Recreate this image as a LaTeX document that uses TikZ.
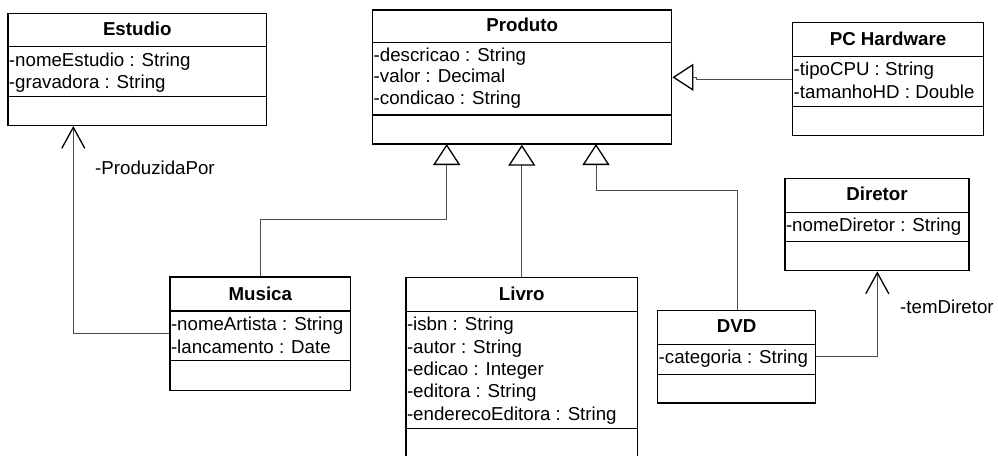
\documentclass[tikz,border=0pt]{standalone}
\usepackage{fontspec}
\setmainfont{Liberation Sans}
\usetikzlibrary{arrows.meta,fit}
\begin{document}
\begin{tikzpicture}[x=1pt,y=-1pt,
  box/.style={draw=black,line width=1.4pt,inner sep=0pt},
  divider/.style={draw=black,line width=1.4pt},
  ttl/.style={font=\fontsize{18.7}{22}\selectfont\bfseries,inner sep=0pt,anchor=base},
  attr/.style={font=\fontsize{18.7}{22}\selectfont,inner sep=0pt,anchor=base west},
  lbl/.style={font=\fontsize{18.7}{22}\selectfont,inner sep=0pt,anchor=base west},
  gen/.style={draw=black!70,line width=1pt,-{Triangle[open,length=21pt,width=27pt,color=black,line width=1.3pt]}},
  assoc/.style={draw=black!70,line width=1pt,-{Straight Barb[length=21pt,width=23pt,color=black,line width=1.3pt]}}]
\useasboundingbox (0,0) rectangle (998,455);
\fill[white] (0,0) rectangle (998,455);

% Estudio
\node[box,fit={(8,13.3) (266.7,125.3)}] (estudio) {};
\draw[divider] (estudio.west |- 0,46.7) -- (estudio.east |- 0,46.7);
\draw[divider] (estudio.west |- 0,96.7) -- (estudio.east |- 0,96.7);
\node[ttl] (estudioT) at (137.3,35) {Estudio};
\node[attr] (estudioA1) at (8.8,66.7) {-nomeEstudio : String};
\node[attr] (estudioA2) at (8.8,88.3) {-gravadora : String};

% Produto
\node[box,fit={(372.7,10) (671.7,144)}] (produto) {};
\draw[divider] (produto.west |- 0,42.7) -- (produto.east |- 0,42.7);
\draw[divider] (produto.west |- 0,115) -- (produto.east |- 0,115);
\node[ttl] (produtoT) at (522.2,31.7) {Produto};
\node[attr] (produtoA1) at (373.5,61.7) {-descricao : String};
\node[attr] (produtoA2) at (373.5,82.3) {-valor : Decimal};
\node[attr] (produtoA3) at (373.5,104) {-condicao : String};

% PC Hardware
\node[box,fit={(792.7,22.7) (983.3,135.3)}] (pc) {};
\draw[divider] (pc.west |- 0,56.7) -- (pc.east |- 0,56.7);
\draw[divider] (pc.west |- 0,106.7) -- (pc.east |- 0,106.7);
\node[ttl] (pcT) at (888,45) {PC Hardware};
\node[attr] (pcA1) at (793.5,75) {-tipoCPU : String};
\node[attr] (pcA2) at (793.5,98.3) {-tamanhoHD : Double};

% Diretor
\node[box,fit={(785,178.3) (969,270.7)}] (diretor) {};
\draw[divider] (diretor.west |- 0,212.7) -- (diretor.east |- 0,212.7);
\draw[divider] (diretor.west |- 0,241.7) -- (diretor.east |- 0,241.7);
\node[ttl] (diretorT) at (877,200.7) {Diretor};
\node[attr] (diretorA1) at (785.8,231.7) {-nomeDiretor : String};

% Musica
\node[box,fit={(170,277) (350.7,390.3)}] (musica) {};
\draw[divider] (musica.west |- 0,311) -- (musica.east |- 0,311);
\draw[divider] (musica.west |- 0,360.7) -- (musica.east |- 0,360.7);
\node[ttl] (musicaT) at (260.3,300) {Musica};
\node[attr] (musicaA1) at (170.8,330.7) {-nomeArtista : String};
\node[attr] (musicaA2) at (170.8,353.3) {-lancamento : Date};

% Livro
\node[box,fit={(406,277.3) (637.7,470)}] (livro) {};
\draw[divider] (livro.west |- 0,311.7) -- (livro.east |- 0,311.7);
\draw[divider] (livro.west |- 0,428.3) -- (livro.east |- 0,428.3);
\node[ttl] (livroT) at (521.8,300) {Livro};
\node[attr] (livroA1) at (406.8,330) {-isbn : String};
\node[attr] (livroA2) at (406.8,353.3) {-autor : String};
\node[attr] (livroA3) at (406.8,375) {-edicao : Integer};
\node[attr] (livroA4) at (406.8,397.3) {-editora : String};
\node[attr] (livroA5) at (406.8,420) {-enderecoEditora : String};

% DVD
\node[box,fit={(657.7,310.7) (815.7,403)}] (dvd) {};
\draw[divider] (dvd.west |- 0,344.3) -- (dvd.east |- 0,344.3);
\draw[divider] (dvd.west |- 0,374.3) -- (dvd.east |- 0,374.3);
\node[ttl] (dvdT) at (736.7,332.3) {DVD};
\node[attr] (dvdA1) at (658.5,363.3) {-categoria : String};

% bend points
\coordinate (mb) at (260,219);
\coordinate (pA) at (446.7,144);
\coordinate (db) at (737.3,190);
\coordinate (pC) at (596,144);
\coordinate (pcj) at (696,79);
\coordinate (pcj2) at (0,77.3);
\coordinate (me) at (73.3,333.7);
\coordinate (dd) at (877.3,356.7);

% generalizations
\draw[gen] (mb |- musica.north) -- (mb) -| (pA);
\draw[gen] (livro.north) -- (livro.north |- produto.south);
\draw[gen] (db |- dvd.north) -- (db) -| (pC);
\draw[gen] (pcj -| pc.west) -- (pcj) |- (produto.east |- pcj2);

% associations
\draw[assoc] (me -| musica.west) -- (me) -- (me |- estudio.south);
\draw[assoc] (dd -| dvd.east) -- (dd) -- (dd |- diretor.south);

\node[lbl] (lprod) at (95,174) {-ProduzidaPor};
\node[lbl] (ltem) at (900,313.3) {-temDiretor};
\end{tikzpicture}
\end{document}
